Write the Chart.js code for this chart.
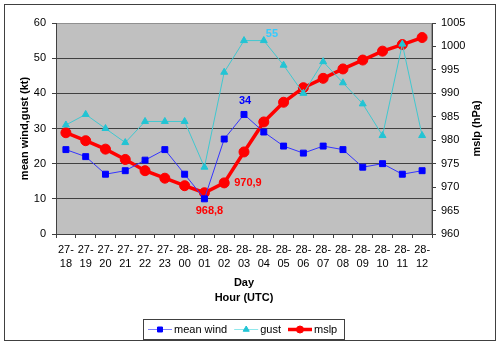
<!DOCTYPE html>
<html>
<head>
<meta charset="utf-8">
<script src="https://cdn.jsdelivr.net/npm/chart.js@4.4.0/dist/chart.umd.min.js"></script>
<style>
  html, body { margin: 0; padding: 0; background: #fff; }
  #wrap { width: 500px; height: 347px; }
</style>
</head>
<body>
<div id="wrap"><canvas id="chart" width="500" height="347"></canvas></div>
<script>
// les données
const hours = ['27-18', '27-19', '27-20', '27-21', '27-22', '27-23', '28-00', '28-01', '28-02', '28-03',
  '28-04', '28-05', '28-06', '28-07', '28-08', '28-09', '28-10', '28-11', '28-12'];
const meanWind = [24, 22, 17, 18, 21, 24, 17, 10, 27, 34, 29, 25, 23, 25, 24, 19, 20, 17, 18];
const gust = [31, 34, 30, 26, 32, 32, 32, 19, 46, 55, 55, 48, 40, 49, 43, 37, 28, 54, 28];
const mslp = [981.6, 979.9, 978.1, 975.9, 973.5, 971.9, 970.3, 968.8, 970.9, 977.5,
  983.9, 988.1, 991.2, 993.2, 995.2, 997.1, 999.0, 1000.4, 1001.9];

// étiquettes de valeurs affichées sur certains points
const pointLabels = [
  { dataset: 0, index: 9, text: '34', color: '#0000ff', dx: 1, dy: -13, align: 'center' },
  { dataset: 1, index: 10, text: '55', color: '#33ccff', dx: 2, dy: -7, align: 'left' },
  { dataset: 2, index: 7, text: '968,8', color: '#ff0000', dx: 5, dy: 18, align: 'center' },
  { dataset: 2, index: 8, text: '970,9', color: '#ff0000', dx: 10, dy: 0, align: 'left' },
];

const FONT = '"Liberation Sans", Arial, sans-serif';
Chart.defaults.font.family = FONT;
Chart.defaults.color = '#000';

// fond gris de la zone de tracé + cadre extérieur
const frame = {
  id: 'frame',
  beforeDraw(chart) {
    const { ctx, chartArea: a } = chart;
    ctx.save();
    ctx.fillStyle = '#fff';
    ctx.fillRect(0, 0, chart.width, chart.height);
    ctx.strokeStyle = '#404040';
    ctx.lineWidth = 1;
    ctx.strokeRect(4.5, 4.5, 491, 336);
    ctx.fillStyle = '#c0c0c0';
    ctx.fillRect(a.left, a.top, a.right - a.left, a.bottom - a.top);
    ctx.strokeStyle = '#909090';
    ctx.strokeRect(a.left + 0.5, a.top + 0.5, a.right - a.left - 1, a.bottom - a.top);
    ctx.restore();
  },
  afterDatasetsDraw(chart) {
    const { ctx } = chart;
    ctx.save();
    ctx.font = 'bold 11px ' + FONT;
    ctx.textBaseline = 'middle';
    pointLabels.forEach(l => {
      const p = chart.getDatasetMeta(l.dataset).data[l.index];
      ctx.fillStyle = l.color;
      ctx.textAlign = l.align;
      ctx.fillText(l.text, p.x + l.dx, p.y + l.dy);
    });
    ctx.restore();
  },
  afterDraw(chart) {
    const { ctx, chartArea: a } = chart;
    ctx.save();
    // titre de l'axe de droite, lu de bas en haut
    ctx.font = 'bold 11px ' + FONT;
    ctx.fillStyle = '#000';
    ctx.textAlign = 'center';
    ctx.textBaseline = 'middle';
    ctx.translate(477, (a.top + a.bottom) / 2);
    ctx.rotate(-Math.PI / 2);
    ctx.fillText('mslp (hPa)', 0, 0);
    ctx.restore();

    // légende façon Excel
    ctx.save();
    ctx.strokeStyle = '#404040';
    ctx.lineWidth = 1;
    ctx.strokeRect(143.5, 319.5, 201, 20);
    ctx.font = '11px ' + FONT;
    ctx.textBaseline = 'middle';
    ctx.textAlign = 'left';
    let x = 148;
    const y = 329.5;
    chart.data.datasets.forEach(ds => {
      ctx.strokeStyle = ds.legendLine;
      ctx.lineWidth = ds.borderWidth;
      ctx.beginPath();
      ctx.moveTo(x, y);
      ctx.lineTo(x + 24, y);
      ctx.stroke();
      ctx.fillStyle = ds.pointBackgroundColor;
      ctx.strokeStyle = ds.pointBorderColor;
      ctx.lineWidth = 1;
      Chart.helpers.drawPoint(ctx, {
        pointStyle: ds.pointStyle, radius: ds.legendRadius, borderWidth: 1, rotation: 0
      }, x + 12, y);
      ctx.fillStyle = '#000';
      ctx.fillText(ds.label, x + 26, y);
      x += 26 + ctx.measureText(ds.label).width + 7;
    });
    ctx.restore();
  }
};

new Chart(document.getElementById('chart'), {
  type: 'line',
  data: {
    labels: hours,
    datasets: [
      {
        label: 'mean wind',
        data: meanWind,
        yAxisID: 'y',
        borderColor: '#3535ff',
        legendLine: '#8080ff',
        legendRadius: 3.5,
        borderWidth: 1,
        pointStyle: 'rect',
        pointRadius: 4.2,
        pointBackgroundColor: '#0000ff',
        pointBorderColor: '#0000ff',
        pointBorderWidth: 1,
        tension: 0,
      },
      {
        label: 'gust',
        data: gust,
        yAxisID: 'y',
        borderColor: '#40c8d0',
        legendLine: '#90e8ec',
        legendRadius: 3.5,
        borderWidth: 1,
        pointStyle: 'triangle',
        pointRadius: 4,
        pointBackgroundColor: '#22c4d4',
        pointBorderColor: '#22c4d4',
        pointBorderWidth: 1,
        tension: 0,
      },
      {
        label: 'mslp',
        data: mslp,
        yAxisID: 'y1',
        borderColor: '#ff0000',
        legendLine: '#ff0000',
        legendRadius: 3.5,
        borderWidth: 3.5,
        pointStyle: 'circle',
        pointRadius: 5,
        pointBackgroundColor: '#ff0000',
        pointBorderColor: '#ff0000',
        pointBorderWidth: 1,
        tension: 0,
      },
    ],
  },
  options: {
    responsive: false,
    animation: false,
    events: [],
    layout: { padding: { top: 23, left: 0, right: 0, bottom: 41 } },
    plugins: {
      legend: { display: false },
      tooltip: { enabled: false },
    },
    scales: {
      x: {
        offset: true,
        afterFit: s => { s.height = 72; },
        grid: { offset: true, drawOnChartArea: false, tickLength: 4, color: '#404040' },
        border: { color: '#404040' },
        ticks: {
          padding: 5,
          maxRotation: 0,
          autoSkip: false,
          font: { size: 11, lineHeight: 1.25 },
          callback: function (v) {
            const t = this.getLabelForValue(v);
            return [t.slice(0, 3), t.slice(3)];
          },
        },
        title: {
          display: true,
          text: ['Day', 'Hour (UTC)'],
          font: { size: 11, weight: 'bold', lineHeight: 1.4 },
          padding: 0,
        },
      },
      y: {
        position: 'left',
        min: 0,
        max: 60,
        afterFit: s => { s.width = 56; },
        ticks: { stepSize: 10, padding: 6, font: { size: 11 } },
        grid: {
          tickLength: 4,
          tickColor: '#404040',
          color: c => (c.tick.value === 0 || c.tick.value === 60) ? 'rgba(0,0,0,0)' : '#404040',
        },
        border: { color: '#404040' },
        title: {
          display: true,
          text: 'mean wind,gust (kt)',
          font: { size: 11, weight: 'bold' },
          padding: { top: 18, bottom: 0 },
        },
      },
      y1: {
        position: 'right',
        min: 960,
        max: 1005,
        afterFit: s => { s.width = 68; },
        ticks: { stepSize: 5, padding: 5, font: { size: 11 }, callback: v => String(v) },
        grid: { drawOnChartArea: false, tickLength: 4, color: '#404040' },
        border: { color: '#404040' },
      },
    },
  },
  plugins: [frame],
});
</script>
</body>
</html>
